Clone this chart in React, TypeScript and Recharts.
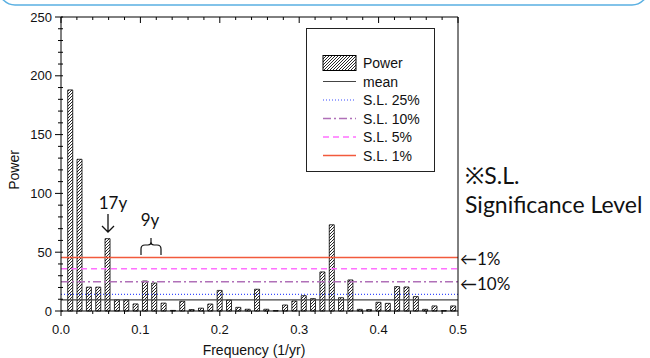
import { Bar, BarChart, Legend, ReferenceLine, XAxis, YAxis } from "recharts";

const freqs = [
  0.0118, 0.0235, 0.0353, 0.0471, 0.0588, 0.0706, 0.0824, 0.0941, 0.1059, 0.1176, 0.1294, 0.1412, 0.1529, 0.1647,
  0.1765, 0.1882, 0.2, 0.2118, 0.2235, 0.2353, 0.2471, 0.2588, 0.2706, 0.2824, 0.2941, 0.3059, 0.3176, 0.3294,
  0.3412, 0.3529, 0.3647, 0.3765, 0.3882, 0.4, 0.4118, 0.4235, 0.4353, 0.4471, 0.4588, 0.4706, 0.4824, 0.4941,
];
const power = [
  188, 129, 20.3, 20.3, 61.5, 9.5, 9.5, 6, 25.5, 23.8, 6.7, 0.5, 8.3, 1.2, 2.4, 5.9, 17.5, 9.3, 3.1, 1.5, 18.5, 1.5,
  0.3, 5.1, 8.5, 13, 10.5, 33.2, 73.3, 11.3, 26.4, 1.4, 1.2, 7.4, 6.5, 20.7, 20.4, 12.2, 1.4, 4.3, 0.3, 4.3,
];
const xTicks = [0, 0.02, 0.04, 0.06, 0.08, 0.1, 0.12, 0.14, 0.16, 0.18, 0.2, 0.22, 0.24, 0.26, 0.28, 0.3, 0.32, 0.34, 0.36, 0.38, 0.4, 0.42, 0.44, 0.46, 0.48, 0.5];
const yTicks = [0, 10, 20, 30, 40, 50, 60, 70, 80, 90, 100, 110, 120, 130, 140, 150, 160, 170, 180, 190, 200, 210, 220, 230, 240, 250];

// mean and significance levels
const meanLevel = 9.4;
const sl25 = 14.2;
const sl10 = 24.8;
const sl5 = 36.0;
const sl1 = 45.4;

const legendLabels = ["Power", "mean", "S.L. 25%", "S.L. 10%", "S.L. 5%", "S.L. 1%"];
const lineStyles = [
  { stroke: "#444", dash: undefined, width: 1.2 },
  { stroke: "#3a4dff", dash: "1 2", width: 1.2 },
  { stroke: "#b070b8", dash: "8 3 2 3", width: 1.5 },
  { stroke: "#ff70ff", dash: "6 4", width: 1.5 },
  { stroke: "#f25a3c", dash: undefined, width: 1.5 },
];

const data = freqs.map((f, i) => ({ f, power: power[i] }));

const AXIS_FONT = "'Liberation Sans', Arial, sans-serif";
const NOTE_FONT = "Lato, 'Noto Sans', sans-serif";

const isMajorX = (v: number) => Math.abs(v * 10 - Math.round(v * 10)) < 1e-6;
const isMajorY = (v: number) => v % 50 === 0;

function BottomTick({ x, y, payload }: any) {
  const major = isMajorX(payload.value);
  return (
    <g>
      <line x1={x} x2={x} y1={y} y2={y + (major ? 5 : 3)} stroke="#000" />
      {major && (
        <text x={x} y={y + 23} textAnchor="middle" fontSize={13} fontFamily={AXIS_FONT} fill="#111">
          {payload.value.toFixed(1)}
        </text>
      )}
    </g>
  );
}

function TopTick({ x, y, payload }: any) {
  const major = isMajorX(payload.value);
  return <line x1={x} x2={x} y1={y} y2={y + (major ? 6 : 3)} stroke="#000" />;
}

function LeftTick({ x, y, payload }: any) {
  const major = isMajorY(payload.value);
  return (
    <g>
      <line x1={x - (major ? 6 : 3)} x2={x + 2} y1={y} y2={y} stroke="#000" />
      {major && (
        <text x={x - 9} y={y + 4.5} textAnchor="end" fontSize={13} fontFamily={AXIS_FONT} fill="#111">
          {payload.value}
        </text>
      )}
    </g>
  );
}

function RightTick({ x, y, payload }: any) {
  const major = isMajorY(payload.value);
  return <line x1={x - (major ? 6 : 4)} x2={x} y1={y} y2={y} stroke="#000" />;
}

function LegendBox() {
  return (
    <svg width={129} height={144} style={{ display: "block" }}>
      <rect x={0.5} y={0.5} width={128} height={143} fill="#fff" stroke="#222" />
      {legendLabels.map((label, i) => {
        const cy = 35 + i * 18.5;
        const st = lineStyles[i - 1];
        return (
          <g key={label}>
            {i === 0 ? (
              <rect x={17} y={cy - 7.5} width={33} height={15} fill="url(#hatch)" stroke="#000" />
            ) : (
              <line x1={17} x2={50} y1={cy} y2={cy} stroke={st.stroke} strokeDasharray={st.dash} strokeWidth={st.width} />
            )}
            <text x={57} y={cy + 5} fontSize={14} fontFamily={AXIS_FONT} fill="#111">
              {label}
            </text>
          </g>
        );
      })}
    </svg>
  );
}

export default function App() {
  const levels = [meanLevel, sl25, sl10, sl5, sl1];
  return (
    <div style={{ position: "absolute", left: 0, top: 0, width: 650, height: 358, background: "#fff" }}>
      <BarChart width={650} height={358} data={data} margin={{ top: 16, right: 0, bottom: 0, left: 0 }} barSize={5}>
        <defs>
          <pattern id="hatch" patternUnits="userSpaceOnUse" width={3} height={3}>
            <rect width={3} height={3} fill="#fff" />
            <path d="M-1,1 L1,-1 M0,3 L3,0 M2,4 L4,2" stroke="#111" strokeWidth={0.9} />
          </pattern>
        </defs>
        <XAxis
          dataKey="f"
          type="number"
          domain={[0, 0.5]}
          ticks={xTicks}
          interval={0}
          height={47}
          tickSize={0}
          tickMargin={0}
          tick={<BottomTick />}
          axisLine={{ stroke: "#000" }}
          label={() => (
            <text x={254} y={355} textAnchor="middle" fontSize={14} fontFamily={AXIS_FONT} fill="#111">
              Frequency (1/yr)
            </text>
          )}
        />
        <XAxis
          xAxisId="top"
          orientation="top"
          dataKey="f"
          type="number"
          domain={[0, 0.5]}
          ticks={xTicks}
          interval={0}
          height={1}
          tickSize={0}
          tickMargin={0}
          tick={<TopTick />}
          axisLine={{ stroke: "#000" }}
        />
        <YAxis
          type="number"
          domain={[0, 250]}
          ticks={yTicks}
          interval={0}
          width={61}
          tickSize={0}
          tickMargin={0}
          tick={<LeftTick />}
          axisLine={{ stroke: "#000" }}
          label={() => (
            <text
              x={19}
              y={170}
              transform="rotate(-90 19 170)"
              textAnchor="middle"
              fontSize={14}
              fontFamily={AXIS_FONT}
              fill="#111"
            >
              Power
            </text>
          )}
        />
        <YAxis
          yAxisId="right"
          orientation="right"
          type="number"
          domain={[0, 250]}
          ticks={yTicks}
          interval={0}
          width={192}
          tickSize={0}
          tickMargin={0}
          tick={<RightTick />}
          axisLine={{ stroke: "#000" }}
        />
        {levels.map((v, i) => (
          <ReferenceLine
            key={i}
            y={v}
            stroke={lineStyles[i].stroke}
            strokeDasharray={lineStyles[i].dash}
            strokeWidth={lineStyles[i].width}
            ifOverflow="extendDomain"
          />
        ))}
        <Bar dataKey="power" fill="url(#hatch)" stroke="#000" strokeWidth={0.8} isAnimationActive={false} />
        <Legend
          content={<LegendBox />}
          wrapperStyle={{ left: 306, top: 28, width: 129, height: 0, overflow: "visible" }}
        />
      </BarChart>
      <svg
        width={650}
        height={358}
        style={{ position: "absolute", left: 0, top: 0, pointerEvents: "none" }}
        fontFamily={NOTE_FONT}
        fill="#111"
      >
        <rect x={-1} y={-30} width={649} height={35} rx={16} fill="none" stroke="#5ab0e2" strokeWidth={1.5} />
        <text x={113} y={209} textAnchor="middle" fontSize={17}>17y</text>
        <path d="M108,214 L108,232 M102,226 L108,232 L114,226" stroke="#111" strokeWidth={1.3} fill="none" />
        <text x={150} y={226} textAnchor="middle" fontSize={17}>9y</text>
        <path
          d="M141,255 L141,249 Q141,245 145,245 L148,245 Q151,245 151,242 L151,238 M151,242 Q151,245 154,245 L157,245 Q161,245 161,249 L161,255"
          stroke="#111"
          strokeWidth={1.2}
          fill="none"
        />
        <text x={465} y={184} fontSize={23}>※S.L.</text>
        <text x={465} y={213} fontSize={23}>Significance Level</text>
        <text x={460} y={265} fontSize={17}>←1%</text>
        <text x={460} y={290} fontSize={17}>←10%</text>
      </svg>
    </div>
  );
}
